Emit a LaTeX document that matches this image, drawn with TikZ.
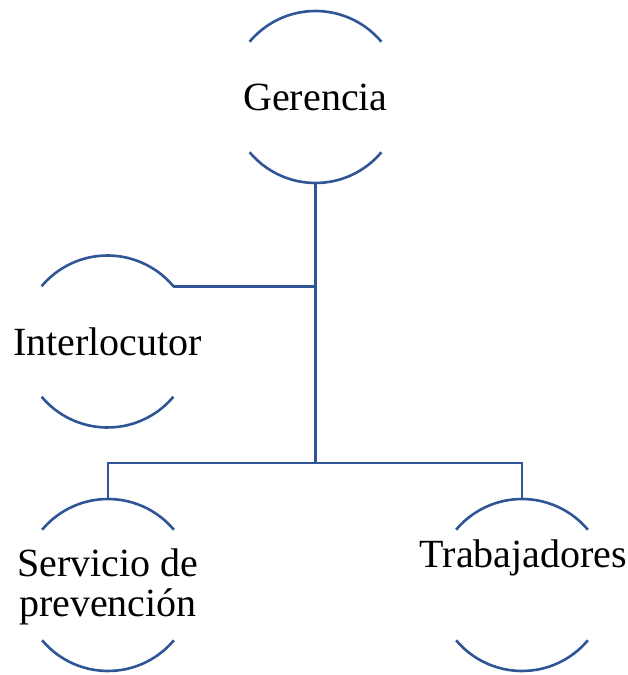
\documentclass[tikz,border=0pt]{standalone}
\usepackage{fontspec}
\setmainfont{Liberation Serif}
\definecolor{orgblue}{RGB}{47,85,151}
\begin{document}
\begin{tikzpicture}[x=1pt,y=1pt,
  ring/.style={circle,minimum size=172pt,inner sep=0pt,outer sep=0pt},
  lbl/.style={font=\fontsize{40}{40}\selectfont,inner sep=0pt,align=center,text=black},
  link/.style={draw=orgblue,line width=2.8pt},
  arcline/.style={draw=orgblue,line width=2.6pt}]
\useasboundingbox (0,0) rectangle (628,675);
% circles
\node[ring] (G) at (315.5,578) {};
\node[ring] (I) at (107.5,333.5) {};
\node[ring] (S) at (108,90) {};
\node[ring] (T) at (522,90) {};
% arcs
\foreach \n in {G,I,S,T}{
  \draw[arcline] (\n.40) arc[start angle=40,end angle=140,radius=86pt];
  \draw[arcline] (\n.220) arc[start angle=220,end angle=320,radius=86pt];
}
% labels
\node[lbl] (Gt) at (G.center) {Gerencia};
\node[lbl] (It) at (I.center) {Interlocutor};
\node[lbl] (St) at ([yshift=-2pt]S.center) {Servicio de\\prevención};
\node[lbl,anchor=base] (Tt) at ([xshift=1.5pt,yshift=17pt]T.center) {Trabajadores};
% connectors
\coordinate (J) at ([yshift=-280pt]G.south);
\draw[link] (G.south) -- (J);
\draw[link] (I.40) -- (I.40 -| G.south);
\draw[link] (S.north) -- (S.north |- J) -- (T.north |- J) -- (T.north);
\end{tikzpicture}
\end{document}
